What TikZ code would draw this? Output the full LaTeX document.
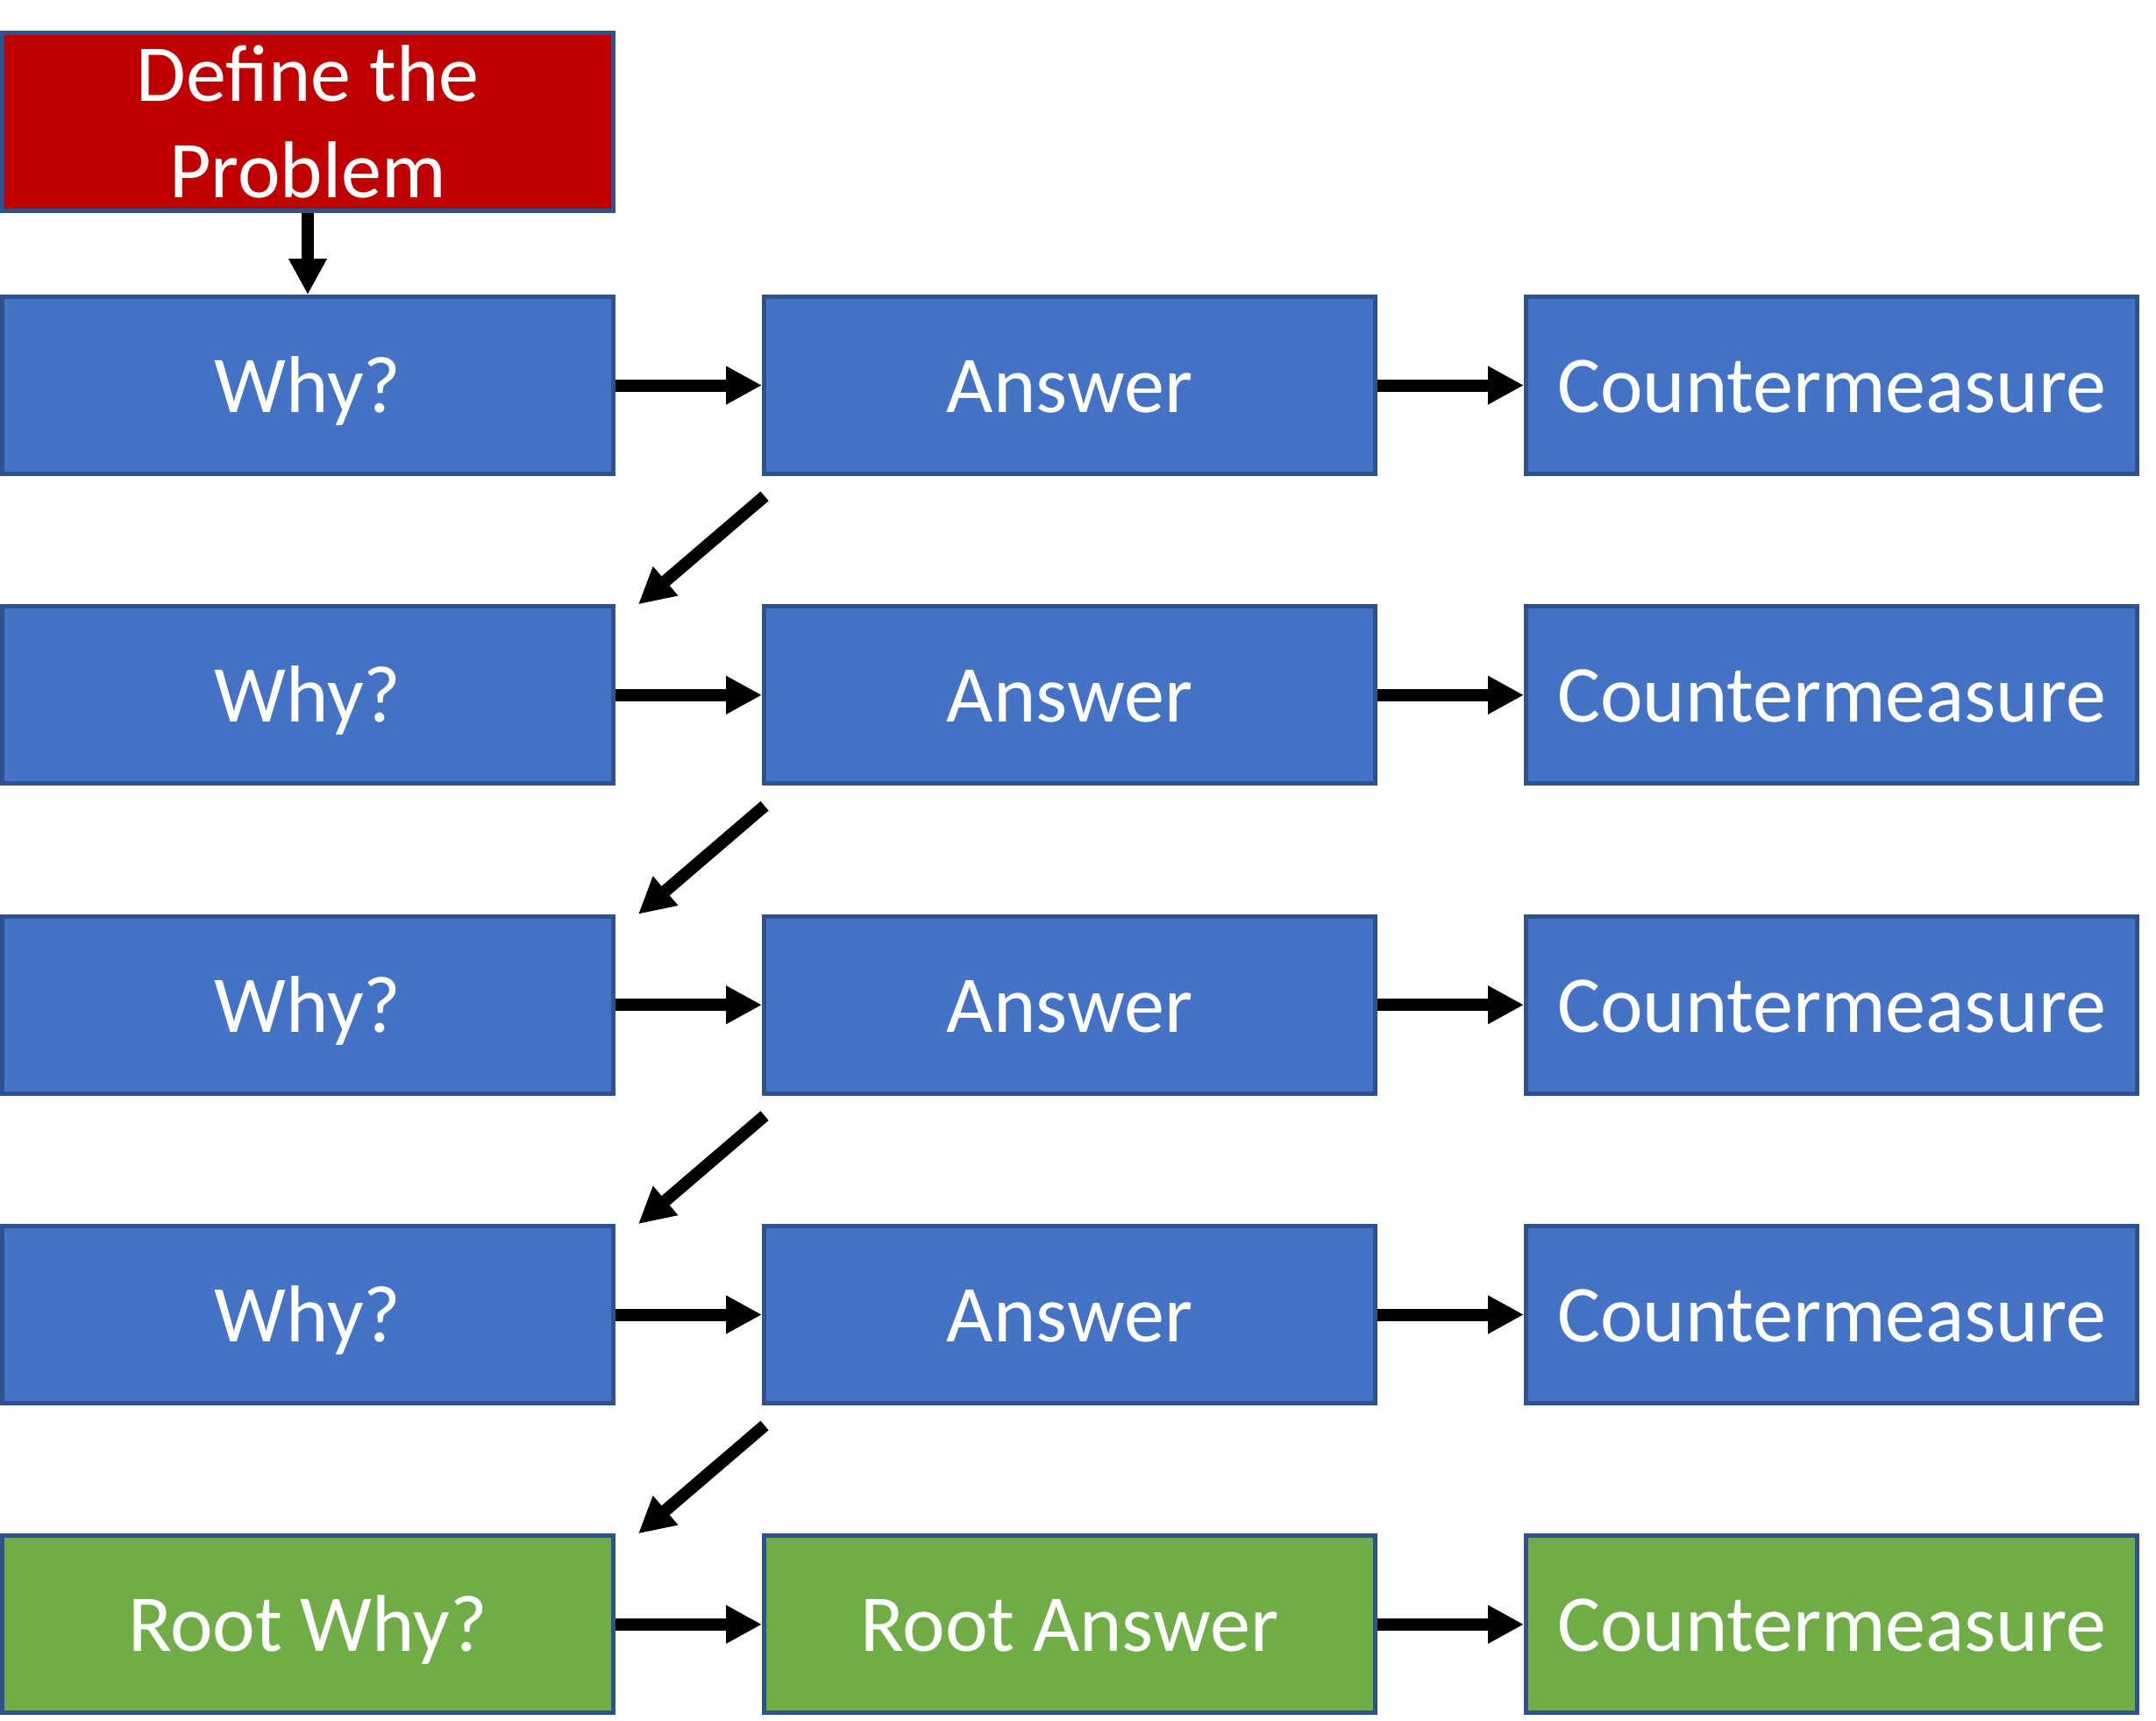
\documentclass[tikz,border=0pt]{standalone}
\usepackage{fontspec}
\setmainfont{Carlito}
\usetikzlibrary{arrows.meta}
\definecolor{probred}{HTML}{C00000}
\definecolor{whyblue}{HTML}{4472C4}
\definecolor{rootgreen}{HTML}{70AD47}
\definecolor{edgeblue}{HTML}{2F528F}

\begin{document}
\begin{tikzpicture}[
    box/.style={draw=edgeblue, line width=1.4pt, minimum width=6.97cm, minimum height=2.02cm,
        inner sep=0pt, align=center, text=white, font=\fontsize{26.2}{31.2}\selectfont},
    cell/.style={box, text height=24.3pt, text depth=6.7pt},
    arr/.style={line width=0.14cm, -{Triangle[length=0.41cm,width=0.41cm]}}
]
    \useasboundingbox (0,0) rectangle (24.59,-19.63);

    \draw (3.51,-1.39) node[box, fill=probred, minimum height=2.03cm] (prob) {Define the\\Problem};

    \draw (3.51,-4.395) node[cell, fill=whyblue] (why1) {Why?};
    \draw (12.20,-4.395) node[cell, fill=whyblue] (ans1) {Answer};
    \draw (20.89,-4.395) node[cell, fill=whyblue] (cm1) {Countermeasure};

    \draw (3.51,-7.928) node[cell, fill=whyblue] (why2) {Why?};
    \draw (12.20,-7.928) node[cell, fill=whyblue] (ans2) {Answer};
    \draw (20.89,-7.928) node[cell, fill=whyblue] (cm2) {Countermeasure};

    \draw (3.51,-11.462) node[cell, fill=whyblue] (why3) {Why?};
    \draw (12.20,-11.462) node[cell, fill=whyblue] (ans3) {Answer};
    \draw (20.89,-11.462) node[cell, fill=whyblue] (cm3) {Countermeasure};

    \draw (3.51,-14.995) node[cell, fill=whyblue] (why4) {Why?};
    \draw (12.20,-14.995) node[cell, fill=whyblue] (ans4) {Answer};
    \draw (20.89,-14.995) node[cell, fill=whyblue] (cm4) {Countermeasure};

    \draw (3.51,-18.528) node[cell, fill=rootgreen] (why5) {Root Why?};
    \draw (12.20,-18.528) node[cell, fill=rootgreen] (ans5) {Root Answer};
    \draw (20.89,-18.528) node[cell, fill=rootgreen] (cm5) {Countermeasure};

    % down from the problem
    \draw[arr] (prob.south) -- (why1.north);

    % across each row
    \draw[arr] (why1.east) -- (ans1.west);
    \draw[arr] (ans1.east) -- (cm1.west);
    \draw[arr] (why2.east) -- (ans2.west);
    \draw[arr] (ans2.east) -- (cm2.west);
    \draw[arr] (why3.east) -- (ans3.west);
    \draw[arr] (ans3.east) -- (cm3.west);
    \draw[arr] (why4.east) -- (ans4.west);
    \draw[arr] (ans4.east) -- (cm4.west);
    \draw[arr] (why5.east) -- (ans5.west);
    \draw[arr] (ans5.east) -- (cm5.west);

    % back to the next why
    \draw[arr] ([shift={(0.03,-0.23)}]ans1.south west) -- ([xshift=0.26cm]why2.north east);
    \draw[arr] ([shift={(0.03,-0.23)}]ans2.south west) -- ([xshift=0.26cm]why3.north east);
    \draw[arr] ([shift={(0.03,-0.23)}]ans3.south west) -- ([xshift=0.26cm]why4.north east);
    \draw[arr] ([shift={(0.03,-0.23)}]ans4.south west) -- ([xshift=0.26cm]why5.north east);
\end{tikzpicture}
\end{document}
